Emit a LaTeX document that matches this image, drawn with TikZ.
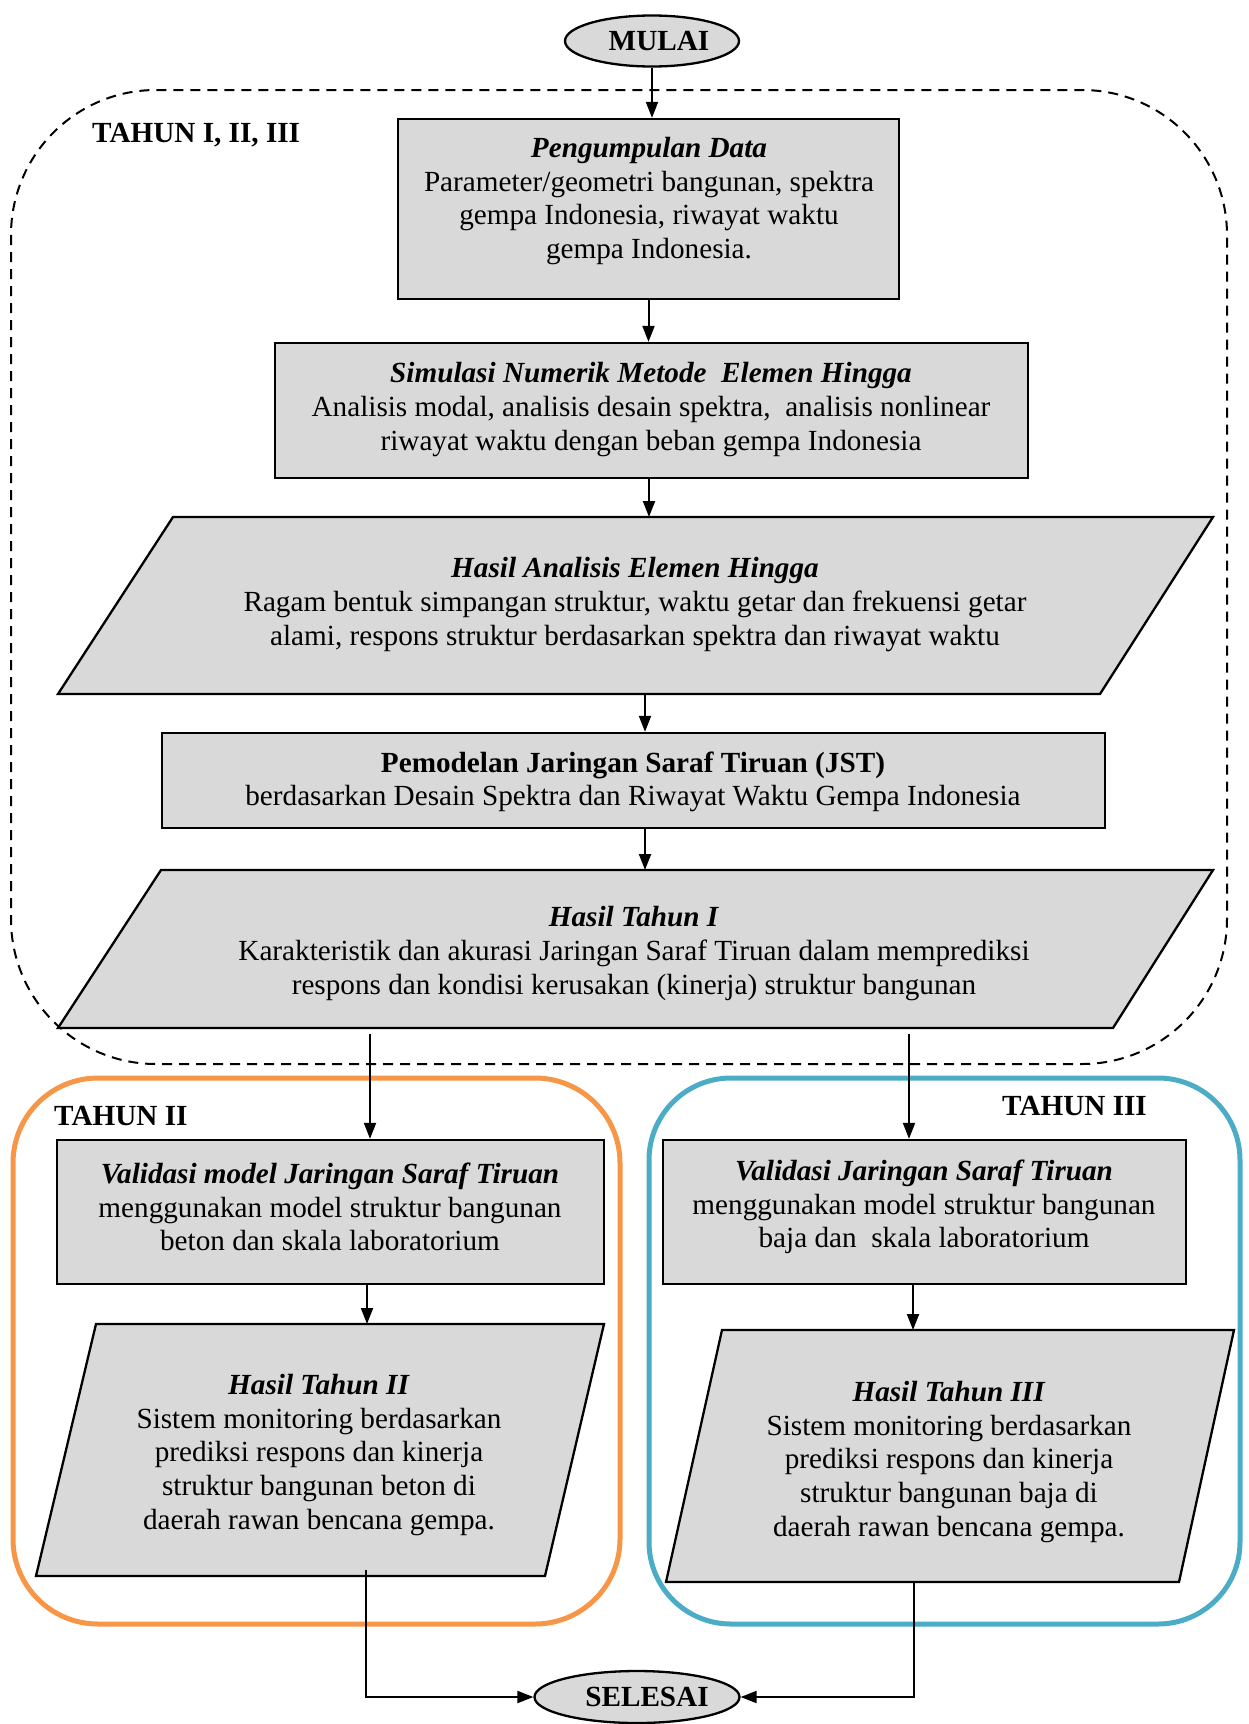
\documentclass[tikz,border=0pt]{standalone}
\usepackage{fontspec}
\setmainfont{Liberation Serif}
\usetikzlibrary{arrows.meta,shapes.geometric,calc}
\definecolor{boxgray}{HTML}{D9D9D9}
\definecolor{yrorange}{HTML}{F79646}
\definecolor{yrblue}{HTML}{4BACC6}
\begin{document}
\begin{tikzpicture}[x=1pt,y=-1pt,
  box/.style={draw=black, line width=2.3pt, fill=boxgray, inner sep=0pt},
  para/.style={draw=black, line width=2.3pt, fill=boxgray, line join=miter},
  txt/.style={align=center, font=\fontsize{29.2}{33.6}\selectfont, inner sep=0pt},
  term/.style={ellipse, draw=black, line width=2.3pt, fill=boxgray, inner sep=0pt},
  termtxt/.style={inner sep=0pt, font=\fontsize{29.2}{33.6}\selectfont\bfseries},
  arr/.style={line width=2pt, -{Triangle[length=16pt,width=12pt]}},
  yr/.style={font=\fontsize{29.2}{33.6}\selectfont\bfseries, inner sep=0pt, anchor=base west}
]
\useasboundingbox (0,0) rectangle (1249,1724);

% containers
\draw[line width=2pt, dash pattern=on 10pt off 7pt, rounded corners=145pt] (11,90) rectangle (1227,1064);
\draw[yrorange, line width=5pt, rounded corners=85pt] (13,1078) rectangle (620,1624);
\draw[yrblue, line width=5pt, rounded corners=82pt] (649,1078) rectangle (1240,1624);

\node[yr] (lab1) at (92,142) {TAHUN I, II, III};
\node[yr] (lab2) at (54,1125) {TAHUN II};
\node[yr] (lab3) at (1002,1115) {TAHUN III};

% terminals
\node[term, minimum width=174pt, minimum height=51pt] (mulai) at (652,41) {};
\node[termtxt] (mulait) at (659,40.5) {MULAI};
\node[term, minimum width=205pt, minimum height=52pt] (selesai) at (637,1697) {};
\node[termtxt] (selesait) at (647,1696.5) {SELESAI};

% rectangles
\node[box, minimum width=501pt, minimum height=180pt] (b1) at (648.5,209) {};
\node[txt] (b1t) at (649,201) {\textbf{\textit{Pengumpulan Data}}\\Parameter/geometri bangunan, spektra\\gempa Indonesia, riwayat waktu\\gempa Indonesia.};

\node[box, minimum width=753pt, minimum height=135pt] (b2) at (651.5,410.5) {};
\node[txt] (b2t) at (651,409.5) {\textbf{\textit{Simulasi Numerik Metode\ \ Elemen Hingga}}\\Analisis modal, analisis desain spektra,\ \ analisis nonlinear\\riwayat waktu dengan beban gempa Indonesia};

% parallelogram 1
\coordinate (p1tl) at (173,517); \coordinate (p1tr) at (1213,517);
\coordinate (p1br) at (1100,694); \coordinate (p1bl) at (58,694);
\draw[para] (p1tl) -- (p1tr) -- (p1br) -- (p1bl) -- cycle;
\node[txt] (p1t) at (635,604.5) {\textbf{\textit{Hasil Analisis Elemen Hingga}}\\Ragam bentuk simpangan struktur, waktu getar dan frekuensi getar\\alami, respons struktur berdasarkan spektra dan riwayat waktu};

\node[box, minimum width=943pt, minimum height=95pt] (b3) at (633.5,780.5) {};
\node[txt] (b3t) at (633,782) {\textbf{Pemodelan Jaringan Saraf Tiruan (JST)}\\berdasarkan Desain Spektra dan Riwayat Waktu Gempa Indonesia};

% parallelogram 2
\coordinate (p2tl) at (161,870); \coordinate (p2tr) at (1213,870);
\coordinate (p2br) at (1113,1028); \coordinate (p2bl) at (58,1028);
\draw[para] (p2tl) -- (p2tr) -- (p2br) -- (p2bl) -- cycle;
\node[txt] (p2t) at (634,953.5) {\textbf{\textit{Hasil Tahun I}}\\Karakteristik dan akurasi Jaringan Saraf Tiruan dalam memprediksi\\respons dan kondisi kerusakan (kinerja) struktur bangunan};

% year II / III boxes
\node[box, minimum width=547pt, minimum height=144pt] (v1) at (330.5,1212) {};
\node[txt] (v1t) at (330,1207) {\textbf{\textit{Validasi model Jaringan Saraf Tiruan}}\\menggunakan model struktur bangunan\\beton dan skala laboratorium};

\node[box, minimum width=523pt, minimum height=144pt] (v2) at (924.5,1212) {};
\node[txt] (v2t) at (924,1207) {\textbf{\textit{Validasi Jaringan Saraf Tiruan}}\\menggunakan model struktur bangunan\\baja dan\ \ skala laboratorium};

\coordinate (p3tl) at (96,1324); \coordinate (p3tr) at (604,1324);
\coordinate (p3br) at (545,1576); \coordinate (p3bl) at (36,1576);
\draw[para] (p3tl) -- (p3tr) -- (p3br) -- (p3bl) -- cycle;
\node[txt] (p3t) at (319,1455) {\textbf{\textit{Hasil Tahun II}}\\Sistem monitoring berdasarkan\\prediksi respons dan kinerja\\struktur bangunan beton di\\daerah rawan bencana gempa.};

\coordinate (p4tl) at (722,1330); \coordinate (p4tr) at (1234,1330);
\coordinate (p4br) at (1179,1582); \coordinate (p4bl) at (666,1582);
\draw[para] (p4tl) -- (p4tr) -- (p4br) -- (p4bl) -- cycle;
\node[txt] (p4t) at (949,1462) {\textbf{\textit{Hasil Tahun III}}\\Sistem monitoring berdasarkan\\prediksi respons dan kinerja\\struktur bangunan baja di\\daerah rawan bencana gempa.};

% connector points
\coordinate (p1n) at (649,517);
\coordinate (p1s) at (645,694);
\coordinate (p2n) at (645,870);
\coordinate (p2a) at (370,1034);
\coordinate (p2b) at (909,1034);
\coordinate (p3n) at (367,1324);
\coordinate (p4n) at (913,1330);
\coordinate (p3s) at (366,1570);
\coordinate (p4s) at (914,1582);

% connectors
\draw[arr] (mulai.south) -- (mulai.south |- b1.north);
\draw[arr] (b1.south) -- (b1.south |- b2.north);
\draw[arr] (p1n |- b2.south) -- (p1n);
\draw[arr] (p1s) -- (p1s |- b3.north);
\draw[arr] (p2n |- b3.south) -- (p2n);
\draw[arr] (p2a) -- (p2a |- v1.north);
\draw[arr] (p2b) -- (p2b |- v2.north);
\draw[arr] (p3n |- v1.south) -- (p3n);
\draw[arr] (p4n |- v2.south) -- (p4n);
\draw[arr] (p3s) |- (selesai.west);
\draw[arr] (p4s) |- (selesai.east);
\end{tikzpicture}
\end{document}
